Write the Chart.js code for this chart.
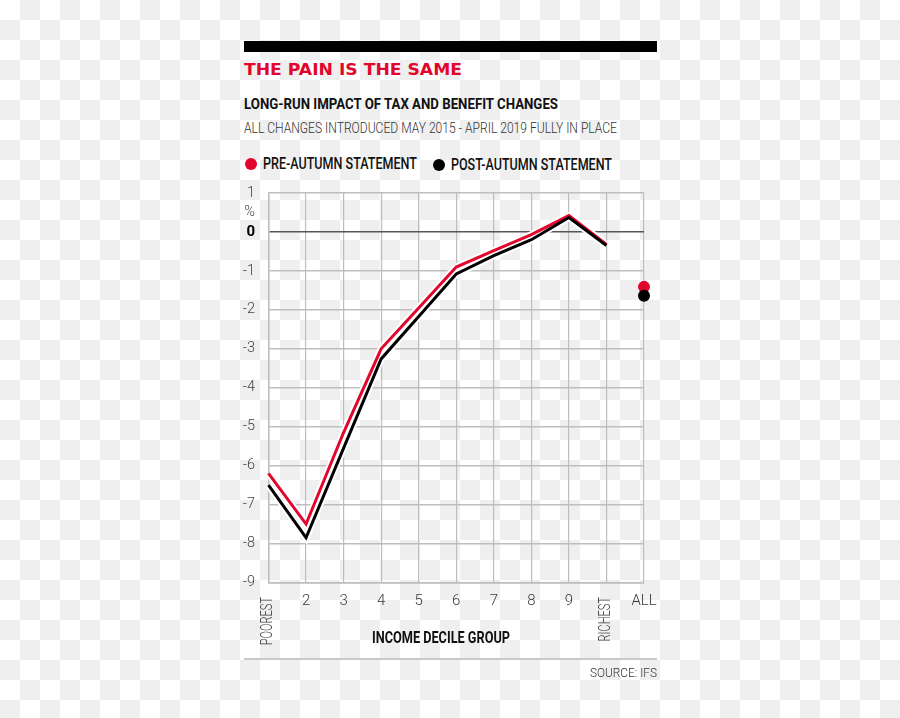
<!DOCTYPE html>
<html>
<head>
<meta charset="utf-8">
<script src="https://cdn.jsdelivr.net/npm/chart.js@4.4.1/dist/chart.umd.min.js"></script>
<style>
  html, body { margin: 0; padding: 0; }
  body {
    width: 900px; height: 718px; position: relative; overflow: hidden;
    background: repeating-conic-gradient(#efefef 0 25%, #ffffff 0 50%) 0 0 / 40px 40px;
  }
  .t { position: absolute; white-space: nowrap; line-height: 1; transform-origin: 0 0;
       font-family: Roboto, "Noto Sans", sans-serif; }
  .bar { position: absolute; left: 244px; top: 41px; width: 413px; height: 11px; background: #000; }
  .rule { position: absolute; left: 244px; top: 658px; width: 413px; height: 1.5px; background: #c9c9c9; }
  .dot { position: absolute; width: 12px; height: 12px; border-radius: 50%; }
  #chart { position: absolute; left: 0; top: 0; }
</style>
</head>
<body>
<div class="bar"></div>
<div class="t" data-w="218" style="left:244px; top:62px; font-family:'DejaVu Sans'; font-weight:bold; font-size:16.5px; color:#e2062c;">THE PAIN IS THE SAME</div>
<div class="t" data-w="314" style="left:244px; top:97px; font-weight:700; font-size:15.5px; color:#111;">LONG-RUN IMPACT OF TAX AND BENEFIT CHANGES</div>
<div class="t" data-w="373" style="left:244px; top:122.3px; font-weight:300; font-size:14.5px; color:#333;">ALL CHANGES INTRODUCED MAY 2015 - APRIL 2019 FULLY IN PLACE</div>

<span class="dot" style="left:244.7px; top:158.3px; background:#e2062c;"></span>
<div class="t" data-w="154" style="left:263px; top:156.3px; font-weight:500; font-size:16px; color:#111;">PRE-AUTUMN STATEMENT</div>
<span class="dot" style="left:433px; top:159.3px; background:#000;"></span>
<div class="t" data-w="161" style="left:450.7px; top:156.8px; font-weight:500; font-size:16px; color:#111;">POST-AUTUMN STATEMENT</div>

<canvas id="chart" width="900" height="718"></canvas>

<div class="t" data-w="138" style="left:371.7px; top:629.8px; font-weight:700; font-size:16px; color:#111;">INCOME DECILE GROUP</div>
<div class="rule"></div>
<div class="t" data-w="67" style="left:590px; top:666.2px; font-weight:300; font-size:13.6px; color:#333;">SOURCE: IFS</div>

<script>
// categories on the x axis
const deciles = ['POOREST', '2', '3', '4', '5', '6', '7', '8', '9', 'RICHEST', 'ALL'];
// labels that are drawn upright (rotated) under the axis
const uprightLabels = ['POOREST', 'RICHEST'];

// % change in net income, by decile
const preAutumn  = [-6.2, -7.5, -5.15, -3.0, -1.95, -0.9, -0.48, -0.07, 0.42, -0.32, null];
const postAutumn = [-6.5, -7.85, -5.55, -3.26, -2.17, -1.08, -0.61, -0.2, 0.37, -0.35, null];
// the "ALL" households point, shown as a lone dot
const preAll  = [null, null, null, null, null, null, null, null, null, null, -1.41];
const postAll = [null, null, null, null, null, null, null, null, null, null, -1.64];

// y ticks (0.5 carries the "%" unit)
const yTicks = [1, 0.5, 0, -1, -2, -3, -4, -5, -6, -7, -8, -9];

const red = '#e2062c';
const gridGrey = '#bdbdbd';
const tickColor = '#3a3a3a';
const fontFamily = 'Roboto, "Noto Sans", sans-serif';

// fit header texts to their widths (condensed look)
function fitTexts() {
  document.querySelectorAll('.t[data-w]').forEach((el) => {
    el.style.transform = 'none';
    const w = el.getBoundingClientRect().width;
    const target = parseFloat(el.dataset.w);
    if (w > 0) el.style.transform = 'scaleX(' + (target / w) + ')';
  });
}
fitTexts();
if (document.fonts && document.fonts.ready) document.fonts.ready.then(fitTexts);

// POOREST / RICHEST written bottom-to-top under their ticks
const uprightTicks = {
  id: 'uprightTicks',
  afterDraw(chart) {
    const xs = chart.scales.x;
    const ctx = chart.ctx;
    ctx.save();
    ctx.font = '300 16.5px ' + fontFamily;
    ctx.fillStyle = tickColor;
    ctx.textAlign = 'right';
    ctx.textBaseline = 'middle';
    deciles.forEach((lab, i) => {
      if (!uprightLabels.includes(lab)) return;
      ctx.save();
      ctx.translate(xs.getPixelForValue(i) - 1, xs.top + 14.5);
      ctx.rotate(-Math.PI / 2);
      ctx.scale(0.67, 1);
      ctx.fillText(lab, 0, 0);
      ctx.restore();
    });
    ctx.restore();
  }
};

function lineSet(data, color, width, order) {
  return {
    data: data, borderColor: color, borderWidth: width, pointRadius: 0,
    borderJoinStyle: 'miter', borderCapStyle: 'butt', tension: 0,
    fill: false, clip: false, order: order, spanGaps: false
  };
}
function dotSet(data, color, order) {
  return {
    data: data, showLine: false, pointRadius: 6, pointBorderWidth: 0,
    pointBackgroundColor: color, borderColor: color, clip: false, order: order
  };
}

new Chart(document.getElementById('chart'), {
  type: 'line',
  data: {
    labels: deciles,
    datasets: [
      lineSet(preAutumn, '#ffffff', 7, 10),
      lineSet(postAutumn, '#ffffff', 7, 10),
      lineSet(preAutumn, red, 3, 5),
      lineSet(postAutumn, '#000000', 3, 4),
      dotSet(preAll, red, 2),
      dotSet(postAll, '#000000', 1)
    ]
  },
  options: {
    responsive: false,
    animation: false,
    events: [],
    layout: { padding: { top: 193, right: 256, bottom: 105.5, left: 0 } },
    plugins: { legend: { display: false }, tooltip: { enabled: false } },
    scales: {
      x: {
        offset: false,
        afterFit: (scale) => { scale.height = 30; },
        grid: { color: gridGrey, lineWidth: 1.2, drawTicks: false },
        border: { color: gridGrey, width: 1.5 },
        ticks: {
          padding: 9.5, color: tickColor, maxRotation: 0, autoSkip: false,
          font: { family: fontFamily, size: 15, weight: '300' },
          callback: (v, i) => uprightLabels.includes(deciles[i]) ? '' : deciles[i]
        }
      },
      y: {
        min: -9, max: 1,
        afterFit: (scale) => { scale.width = 268.5; },
        afterBuildTicks: (scale) => { scale.ticks = yTicks.map((v) => ({ value: v })); },
        grid: {
          drawTicks: false,
          color: (c) => c.tick.value === 0 ? '#555555' : (c.tick.value === 0.5 ? 'rgba(0,0,0,0)' : gridGrey),
          lineWidth: (c) => c.tick.value === 0 ? 1.6 : 1.5
        },
        border: { color: gridGrey, width: 1.5 },
        ticks: {
          padding: 13.5,
          color: (c) => c.tick.value === 0 ? '#000000' : '#444444',
          font: (c) => c.tick && c.tick.value === 0
            ? { family: fontFamily, size: 15, weight: 'bold' }
            : { family: fontFamily, size: 14.5, weight: '300' },
          callback: (v) => v === 0.5 ? '%' : String(v)
        }
      }
    }
  },
  plugins: [uprightTicks]
});
</script>
</body>
</html>
